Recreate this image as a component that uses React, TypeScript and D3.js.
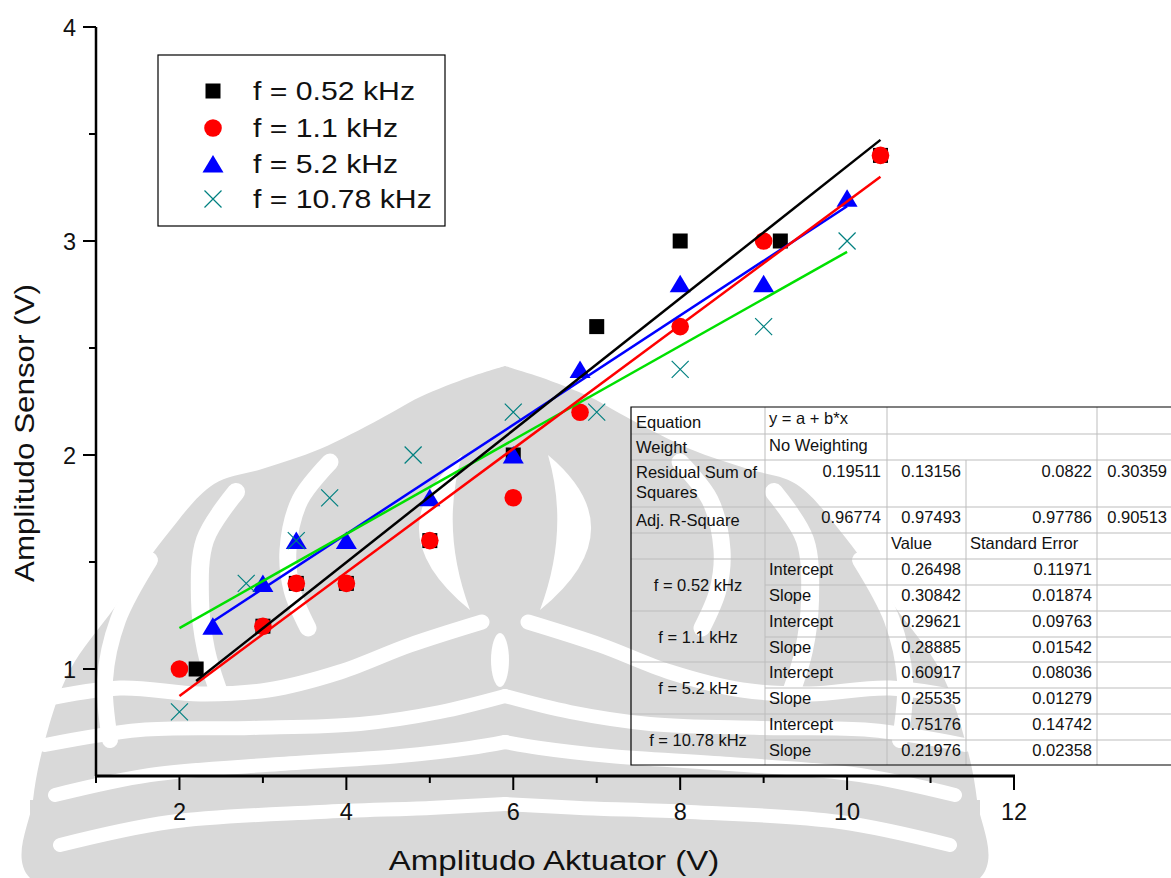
import React from 'react';
import * as d3 from 'd3';

const W = 1171;
const H = 878;

// Series data
const x052 = [2.2, 3, 3.4, 4, 5, 6, 7, 8, 9.2, 10.4];
const y052 = [1.0, 1.2, 1.4, 1.4, 1.6, 2.0, 2.6, 3.0, 3.0, 3.4];
const x11 = [2, 3, 3.4, 4, 5, 6, 6.8, 8, 9, 10.4];
const y11 = [1.0, 1.2, 1.4, 1.4, 1.6, 1.8, 2.2, 2.6, 3.0, 3.4];
const x52 = [2.4, 3, 3.4, 4, 5, 6, 6.8, 8, 9, 10];
const y52 = [1.2, 1.4, 1.6, 1.6, 1.8, 2.0, 2.4, 2.8, 2.8, 3.2];
const x1078 = [2, 2.8, 3.4, 3.8, 4.8, 6, 7, 8, 9, 10];
const y1078 = [0.8, 1.4, 1.6, 1.8, 2.0, 2.2, 2.2, 2.4, 2.6, 3.0];

// Fit results
const seriesNames = ['f = 0.52 kHz', 'f = 1.1 kHz', 'f = 5.2 kHz', 'f = 10.78 kHz'];
const intercepts = ['0.26498', '0.29621', '0.60917', '0.75176'];
const interceptErrs = ['0.11971', '0.09763', '0.08036', '0.14742'];
const slopes = ['0.30842', '0.28885', '0.25535', '0.21976'];
const slopeErrs = ['0.01874', '0.01542', '0.01279', '0.02358'];
const rss = ['0.19511', '0.13156', '0.0822', '0.30359'];
const adjR2 = ['0.96774', '0.97493', '0.97786', '0.90513'];

const xTicks = [2, 4, 6, 8, 10, 12];
const xMinor = [1, 3, 5, 7, 9, 11];
const yTicks = [1, 2, 3, 4];
const yMinor = [1.5, 2.5, 3.5];

const FONT = "Arial, 'Liberation Sans', sans-serif";

const x = d3.scaleLinear().domain([1, 12]).range([96, 1014]);
const y = d3.scaleLinear().domain([0.5, 4]).range([776, 27]);

// Watermark geometry (left half, mirrored about CX)
const CX = 505;
const envLeft: [number, number][] = [
  [505, 366], [470, 377], [420, 397], [380, 419], [320, 449], [262, 469], [214, 484],
  [165, 537], [115, 607], [70, 670], [45, 740], [33, 800], [30, 878],
];
const bandsLeft: { pts: [number, number][]; w: number }[] = [
  { pts: [[150, 560], [118, 620], [105, 680], [110, 740]], w: 16 },
  { pts: [[236, 492], [205, 540], [200, 600], [206, 650], [218, 690]], w: 18 },
  { pts: [[330, 462], [300, 500], [288, 550], [292, 590], [308, 628]], w: 17 },
  { pts: [[40, 700], [120, 688], [200, 694], [268, 690], [340, 672], [410, 645], [482, 622]], w: 15 },
  { pts: [[45, 745], [140, 730], [250, 728], [360, 724], [440, 712], [505, 696]], w: 14 },
  { pts: [[55, 795], [150, 775], [280, 764], [400, 756], [470, 748], [505, 742]], w: 14 },
  { pts: [[60, 845], [170, 822], [320, 812], [430, 808], [505, 804]], w: 14 },
];

const mirror = (pts: [number, number][]) => pts.map(([a, b]) => [2 * CX - a, b] as [number, number]);

function Watermark() {
  const smooth = d3.line().curve(d3.curveCatmullRom.alpha(0.5));
  const env = [...envLeft, ...mirror(envLeft).reverse()];
  const envPath = d3.line().curve(d3.curveCatmullRomClosed.alpha(0.5))(env) as string;
  const all = bandsLeft.flatMap((b) => [b, { pts: mirror(b.pts), w: b.w }]);
  return (
    <g>
      <path d={envPath} fill="#d9d9d9" />
      <rect x={30} y={800} width={2 * CX - 60} height={78} fill="#d9d9d9" />
      {all.map((b, i) => (
        <path key={i} d={smooth(b.pts) as string} fill="none" stroke="#fff" strokeWidth={b.w} strokeLinecap="round" />
      ))}
      {/* eye crescents */}
      <path d={`M462,455 Q372,530 470,610 Q440,530 462,455Z`} fill="#fff" />
      <path d={`M${2 * CX - 462},455 Q${2 * CX - 372},530 ${2 * CX - 470},610 Q${2 * CX - 440},530 ${2 * CX - 462},455Z`} fill="#fff" />
      <ellipse cx={CX - 5} cy={660} rx={9} ry={27} fill="#fff" />
    </g>
  );
}

function Square({ cx, cy }: { cx: number; cy: number }) {
  return <rect x={cx - 7.5} y={cy - 7.5} width={15} height={15} fill="#000" />;
}
function Circle({ cx, cy }: { cx: number; cy: number }) {
  return <circle cx={cx} cy={cy} r={8.8} fill="#ff0000" />;
}
function Tri({ cx, cy }: { cx: number; cy: number }) {
  return <path d={`M${cx},${cy - 9} L${cx + 10.5},${cy + 8.5} L${cx - 10.5},${cy + 8.5}Z`} fill="#0000ff" />;
}
function Cross({ cx, cy }: { cx: number; cy: number }) {
  const s = 8.5;
  return (
    <path d={`M${cx - s},${cy - s}L${cx + s},${cy + s}M${cx - s},${cy + s}L${cx + s},${cy - s}`} stroke="#008080" strokeWidth={1.2} fill="none" />
  );
}

const fitLine = (xs: number[], a: string, b: string) => {
  const lo = d3.min(xs) as number;
  const hi = d3.max(xs) as number;
  const A = +a;
  const B = +b;
  return d3.line<number>().x((v) => x(v)).y((v) => y(A + B * v))([lo, hi]) as string;
};

function Table() {
  const cols = [631, 765, 887, 966, 1097, 1172];
  const rows = [407, 434, 460, 507, 533, 559, 585, 611, 637, 662, 688, 714, 740, 765];
  const grid = '#bdbdbd';
  const fs = 16.5;
  const t = (tx: number, ty: number, s: string, anchor: 'start' | 'end' | 'middle' = 'start', k?: string) => (
    <text key={k ?? `${tx}-${ty}-${s}`} x={tx} y={ty} textAnchor={anchor} fontSize={fs} fontFamily={FONT} fill="#111">
      {s}
    </text>
  );
  const lines: JSX.Element[] = [];
  rows.slice(1, -1).forEach((ry, i) => {
    const r = i + 1;
    const inGroup = r >= 6 && (r - 5) % 2 === 1;
    const x1 = inGroup ? cols[1] : cols[0];
    lines.push(<line key={`h${r}`} x1={x1} x2={W} y1={ry} y2={ry} stroke={grid} strokeWidth={1} />);
  });
  cols.slice(1, 5).forEach((cx, i) => {
    const c = i + 1;
    const top = c === 3 ? rows[2] : rows[0];
    lines.push(<line key={`v${c}`} x1={cx} x2={cx} y1={top} y2={rows[rows.length - 1]} stroke={grid} strokeWidth={1} />);
  });
  const texts: JSX.Element[] = [];
  texts.push(t(636, 428, 'Equation'));
  texts.push(t(769, 424, 'y = a + b*x'));
  texts.push(t(636, 453, 'Weight'));
  texts.push(t(769, 451, 'No Weighting'));
  texts.push(t(636, 478, 'Residual Sum of'));
  texts.push(t(636, 498, 'Squares'));
  texts.push(t(636, 526, 'Adj. R-Square'));
  const rightEdges = [881, 961, 1092, 1167];
  rss.forEach((v, i) => texts.push(t(rightEdges[i], 477, v, 'end', `rss${i}`)));
  adjR2.forEach((v, i) => texts.push(t(rightEdges[i], 523, v, 'end', `r2${i}`)));
  texts.push(t(891, 549, 'Value'));
  texts.push(t(970, 549, 'Standard Error'));
  seriesNames.forEach((nm, i) => {
    const top = rows[5 + i * 2];
    texts.push(t(698, top + 32, nm, 'middle', `nm${i}`));
    texts.push(t(769, top + 16, 'Intercept', 'start', `ic${i}`));
    texts.push(t(769, top + 42, 'Slope', 'start', `sl${i}`));
    texts.push(t(961, top + 16, intercepts[i], 'end', `iv${i}`));
    texts.push(t(961, top + 42, slopes[i], 'end', `sv${i}`));
    texts.push(t(1092, top + 16, interceptErrs[i], 'end', `ie${i}`));
    texts.push(t(1092, top + 42, slopeErrs[i], 'end', `se${i}`));
  });
  return (
    <g>
      {lines}
      <path d={`M${W + 2},${rows[0]}H${cols[0]}V${rows[rows.length - 1]}H${W + 2}`} fill="none" stroke="#000" strokeWidth={1.2} />
      {texts}
    </g>
  );
}

export default function App() {
  const legendItems = [
    { label: 'f = 0.52 kHz', kind: 'sq' },
    { label: 'f = 1.1 kHz', kind: 'ci' },
    { label: 'f = 5.2 kHz', kind: 'tr' },
    { label: 'f = 10.78 kHz', kind: 'cr' },
  ];
  const legendY = [91, 128, 164, 199];
  return (
    <svg width={W} height={H} style={{ position: 'absolute', left: 0, top: 0, background: '#fff' }} fontFamily={FONT}>
      <rect x={0} y={0} width={W} height={H} fill="#fff" />
      <Watermark />

      {/* axes */}
      <line x1={96} x2={96} y1={y(4)} y2={y(0.5)} stroke="#000" strokeWidth={2.5} />
      <line x1={95} x2={x(12) + 1} y1={y(0.5)} y2={y(0.5)} stroke="#000" strokeWidth={3} />
      {yTicks.map((v) => (
        <g key={`yt${v}`}>
          <line x1={83} x2={96} y1={y(v)} y2={y(v)} stroke="#000" strokeWidth={2} />
          <text x={76} y={y(v) + 8.5} textAnchor="end" fontSize={23.5} fill="#111">
            {v}
          </text>
        </g>
      ))}
      {yMinor.map((v) => (
        <line key={`ym${v}`} x1={89} x2={96} y1={y(v)} y2={y(v)} stroke="#000" strokeWidth={2} />
      ))}
      {xTicks.map((v) => (
        <g key={`xt${v}`}>
          <line x1={x(v)} x2={x(v)} y1={776} y2={790} stroke="#000" strokeWidth={2} />
          <text x={x(v)} y={820} textAnchor="middle" fontSize={23.5} fill="#111">
            {v}
          </text>
        </g>
      ))}
      {xMinor.map((v) => (
        <line key={`xm${v}`} x1={x(v)} x2={x(v)} y1={776} y2={783} stroke="#000" strokeWidth={2} />
      ))}

      <text transform="translate(554,870) scale(1.18,1)" textAnchor="middle" fontSize={28} fill="#111">
        Amplitudo Aktuator (V)
      </text>
      <text transform="translate(34,433) rotate(-90) scale(1.12,1)" textAnchor="middle" fontSize={28} fill="#111">
        Amplitudo Sensor (V)
      </text>

      {/* scatter */}
      {x052.map((v, i) => <Square key={`s${i}`} cx={x(v)} cy={y(y052[i])} />)}
      {x11.map((v, i) => <Circle key={`c${i}`} cx={x(v)} cy={y(y11[i])} />)}
      {x52.map((v, i) => <Tri key={`t${i}`} cx={x(v)} cy={y(y52[i])} />)}
      {x1078.map((v, i) => <Cross key={`x${i}`} cx={x(v)} cy={y(y1078[i])} />)}

      {/* fit lines */}
      <path d={fitLine(x52, intercepts[2], slopes[2])} stroke="#0000ff" strokeWidth={2.5} fill="none" />
      <path d={fitLine(x1078, intercepts[3], slopes[3])} stroke="#00e000" strokeWidth={2.5} fill="none" />
      <path d={fitLine(x11, intercepts[1], slopes[1])} stroke="#ff0000" strokeWidth={2.5} fill="none" />
      <path d={fitLine(x052, intercepts[0], slopes[0])} stroke="#000" strokeWidth={2.5} fill="none" />

      {/* legend */}
      <rect x={158} y={55} width={287} height={171} fill="#fff" stroke="#000" strokeWidth={1.2} />
      {legendItems.map((it, i) => (
        <g key={`lg${i}`}>
          {it.kind === 'sq' && <Square cx={213} cy={legendY[i]} />}
          {it.kind === 'ci' && <Circle cx={213} cy={legendY[i]} />}
          {it.kind === 'tr' && <Tri cx={213} cy={legendY[i]} />}
          {it.kind === 'cr' && <Cross cx={213} cy={legendY[i]} />}
          <text transform={`translate(253,${legendY[i] + 9}) scale(1.14,1)`} fontSize={26.5} fill="#111">
            {it.label}
          </text>
        </g>
      ))}

      <Table />
    </svg>
  );
}
